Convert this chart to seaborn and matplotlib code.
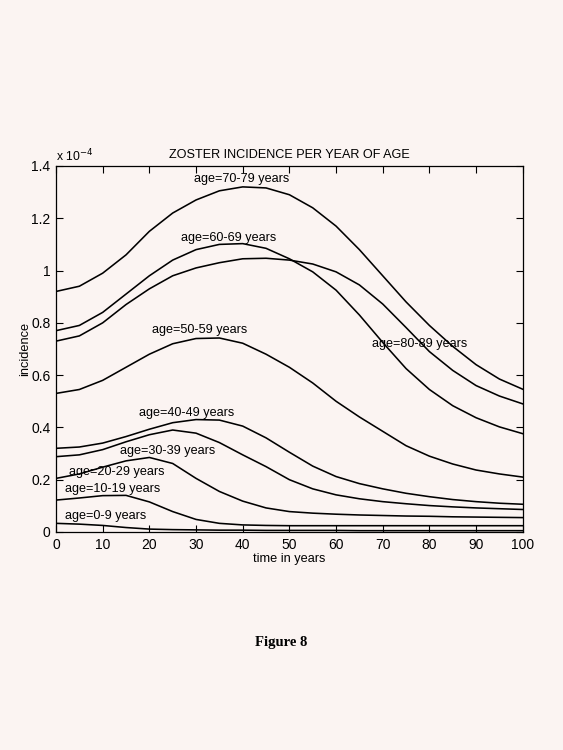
import numpy as np
import pandas as pd
import matplotlib
matplotlib.use("Agg")
import matplotlib.pyplot as plt
import seaborn as sns

# time grid (years) and incidence per age group, in units of 1e-4
time = [0, 5, 10, 15, 20, 25, 30, 35, 40, 45, 50, 55, 60, 65, 70, 75, 80, 85, 90, 95, 100]

age_0_9 = [0.033, 0.03, 0.025, 0.017, 0.011, 0.009, 0.008, 0.007, 0.007, 0.006, 0.006, 0.006,
           0.006, 0.005, 0.005, 0.005, 0.005, 0.005, 0.005, 0.005, 0.005]
age_10_19 = [0.122, 0.13, 0.139, 0.14, 0.115, 0.078, 0.048, 0.033, 0.027, 0.025, 0.024, 0.024,
             0.024, 0.024, 0.024, 0.024, 0.024, 0.024, 0.024, 0.024, 0.024]
age_20_29 = [0.205, 0.222, 0.248, 0.272, 0.285, 0.262, 0.205, 0.155, 0.118, 0.092, 0.078, 0.072,
             0.068, 0.065, 0.063, 0.061, 0.06, 0.058, 0.057, 0.056, 0.055]
age_30_39 = [0.288, 0.295, 0.315, 0.345, 0.372, 0.39, 0.378, 0.342, 0.295, 0.25, 0.2, 0.165,
             0.142, 0.127, 0.116, 0.108, 0.101, 0.096, 0.092, 0.089, 0.086]
age_40_49 = [0.32, 0.325, 0.34, 0.365, 0.393, 0.418, 0.43, 0.428, 0.405, 0.36, 0.305, 0.252,
             0.212, 0.185, 0.165, 0.148, 0.135, 0.124, 0.116, 0.11, 0.106]
age_50_59 = [0.53, 0.545, 0.58, 0.63, 0.68, 0.72, 0.74, 0.742, 0.722, 0.68, 0.63, 0.57,
             0.5, 0.44, 0.385, 0.33, 0.29, 0.26, 0.237, 0.222, 0.21]
age_60_69 = [0.77, 0.79, 0.84, 0.91, 0.98, 1.04, 1.08, 1.1, 1.103, 1.085, 1.045, 0.995,
             0.925, 0.83, 0.725, 0.625, 0.545, 0.483, 0.437, 0.402, 0.376]
age_70_79 = [0.92, 0.94, 0.99, 1.06, 1.15, 1.22, 1.27, 1.305, 1.32, 1.316, 1.29, 1.24,
             1.17, 1.08, 0.98, 0.88, 0.79, 0.71, 0.64, 0.585, 0.546]
age_80_89 = [0.73, 0.75, 0.8, 0.87, 0.93, 0.98, 1.01, 1.03, 1.045, 1.047, 1.04, 1.025,
             0.995, 0.945, 0.872, 0.782, 0.69, 0.618, 0.56, 0.52, 0.49]

groups = ["0-9", "10-19", "20-29", "30-39", "40-49", "50-59", "60-69", "70-79", "80-89"]
series = [age_0_9, age_10_19, age_20_29, age_30_39, age_40_49,
          age_50_59, age_60_69, age_70_79, age_80_89]

# label anchor (left edge in time, vertical centre in incidence) per group
label_t = [2.0, 2.0, 2.8, 13.7, 17.8, 20.6, 26.8, 29.5, 67.7]
label_y = [0.06, 0.166, 0.228, 0.31, 0.456, 0.772, 1.125, 1.352, 0.72]

df = pd.concat([pd.DataFrame({"time": time, "incidence": s, "age": g})
                for g, s in zip(groups, series)], ignore_index=True)

plt.rcParams["font.family"] = ["Liberation Sans", "DejaVu Sans"]
bg = "#fbf4f2"

fig = plt.figure(figsize=(5.63, 7.5), dpi=100, facecolor=bg)
ax = fig.add_axes([0.0995, 0.2907, 0.829, 0.488])
ax.set_facecolor(bg)

sns.lineplot(data=df, x="time", y="incidence", hue="age",
             palette={g: "black" for g in groups}, linewidth=1.15,
             legend=False, ax=ax)

for g, tx, ty in zip(groups, label_t, label_y):
    ax.text(tx, ty, f"age={g} years", fontsize=9.1, ha="left", va="center", color="black")

ax.set_xlim(0, 100)
ax.set_ylim(0, 1.4)
ax.set_xticks(range(0, 101, 10))
ax.set_yticks([0, 0.2, 0.4, 0.6, 0.8, 1.0, 1.2, 1.4])
ax.set_yticklabels(["0", "0.2", "0.4", "0.6", "0.8", "1", "1.2", "1.4"])
ax.tick_params(direction="in", length=5, width=0.8, top=True, right=True,
               labelsize=10, pad=4, colors="black")
for sp in ax.spines.values():
    sp.set_linewidth(0.9)
    sp.set_color("black")

ax.set_xlabel("time in years", fontsize=9.2, labelpad=1)
ax.set_ylabel("incidence", fontsize=9.2, labelpad=0)
ax.set_title("ZOSTER INCIDENCE PER YEAR OF AGE", fontsize=9.1, pad=6)
ax.text(0.0, 1.005, "x 10$^{-4}$", transform=ax.transAxes, fontsize=8.7,
        ha="left", va="bottom")

fig.text(0.5, 0.143, "Figure 8", fontsize=10.5, fontweight="bold",
         family=["Liberation Serif", "DejaVu Serif"], ha="center", va="center")

fig.savefig("out.png", dpi=100, facecolor=bg)
